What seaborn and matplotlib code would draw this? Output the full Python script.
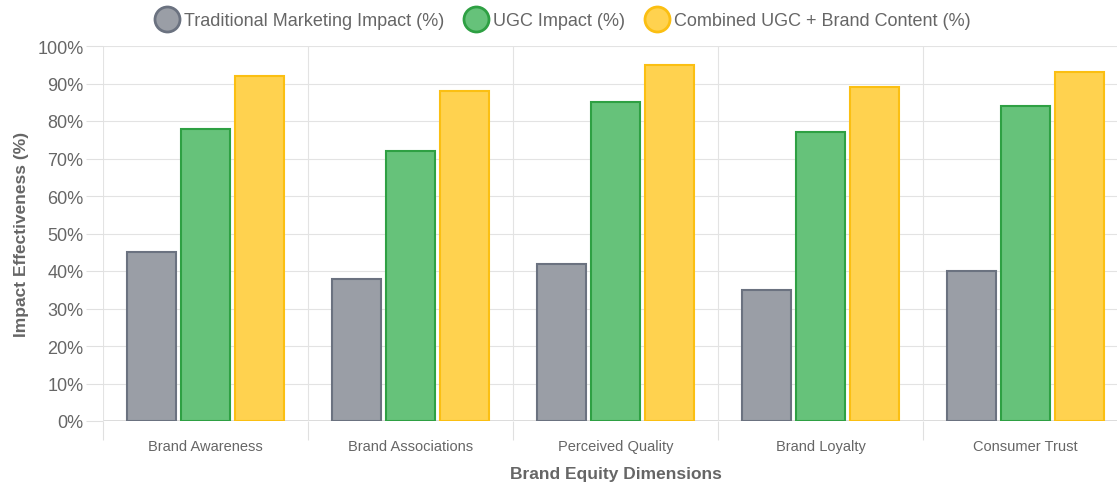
import pandas as pd
import seaborn as sns
import matplotlib.pyplot as plt
from matplotlib.lines import Line2D
from matplotlib.ticker import FixedLocator, PercentFormatter

categories = ["Brand Awareness", "Brand Associations", "Perceived Quality",
              "Brand Loyalty", "Consumer Trust"]
traditional = [45, 38, 42, 35, 40]
ugc = [78, 72, 85, 77, 84]
combined = [92, 88, 95, 89, 93]
series_names = ["Traditional Marketing Impact (%)", "UGC Impact (%)",
                "Combined UGC + Brand Content (%)"]

fills = ["#9a9ea6", "#66c27a", "#ffd24f"]
edges = ["#6b7280", "#2ea043", "#fbbf12"]

# long form for seaborn
rows = []
for name, vals in zip(series_names, [traditional, ugc, combined]):
    for cat, v in zip(categories, vals):
        rows.append({"Dimension": cat, "Series": name, "Value": v})
df = pd.DataFrame(rows)

sns.set_style("white")
plt.rcParams["font.family"] = ["Liberation Sans", "DejaVu Sans"]

fig = plt.figure(figsize=(11.17, 4.85), dpi=100)
ax = fig.add_axes([103 / 1117, 1 - 422 / 485, 1025 / 1117, 375 / 485])

sns.barplot(data=df, x="Dimension", y="Value", hue="Series",
            palette=fills, saturation=1, width=0.79, gap=0.11, ax=ax,
            legend=False)

# bar edges by series
n = len(categories)
for i, patch in enumerate(ax.patches[:3 * n]):
    patch.set_edgecolor(edges[i // n])
    patch.set_linewidth(1.5)

ax.set_xlim(-0.5, n - 0.5)
ax.set_ylim(0, 100)
ax.yaxis.set_major_locator(FixedLocator(range(0, 101, 10)))
ax.yaxis.set_major_formatter(PercentFormatter(decimals=0))

# category boundaries as minor ticks with grid
ax.xaxis.set_minor_locator(FixedLocator([i - 0.5 for i in range(n + 1)]))
ax.tick_params(axis="x", which="major", bottom=True, length=0, pad=13,
               labelsize=10.5, labelcolor="#666666")
ax.tick_params(axis="x", which="minor", bottom=True, length=14, width=0.8,
               color="#e0e0e0")
ax.tick_params(axis="y", which="major", left=True, length=12, width=0.8,
               color="#e0e0e0", labelsize=13, labelcolor="#666666", pad=2)
ax.grid(True, axis="y", which="major", color="#e3e3e3", linewidth=0.8)
ax.grid(True, axis="x", which="minor", color="#e3e3e3", linewidth=0.8)
ax.set_axisbelow(True)
for s in ax.spines.values():
    s.set_visible(False)
ax.axhline(0, color="#d6d6d6", linewidth=1.2, zorder=0.5)

ax.set_xlabel("Brand Equity Dimensions", fontsize=12.5, fontweight="bold",
              color="#666666", labelpad=9)
ax.set_ylabel("Impact Effectiveness (%)", fontsize=12.5, fontweight="bold",
              color="#666666", labelpad=6)

handles = [Line2D([0], [0], marker="o", linestyle="none", markersize=18,
                  markerfacecolor=f, markeredgecolor=e, markeredgewidth=2)
           for f, e in zip(fills, edges)]
fig.legend(handles, series_names, loc="center", bbox_to_anchor=(0.503, 1 - 22 / 485),
           ncol=3, frameon=False, fontsize=13, labelcolor="#666666",
           handletextpad=0.2, columnspacing=1.0, handlelength=1.5)

fig.savefig("out.png", dpi=100)
